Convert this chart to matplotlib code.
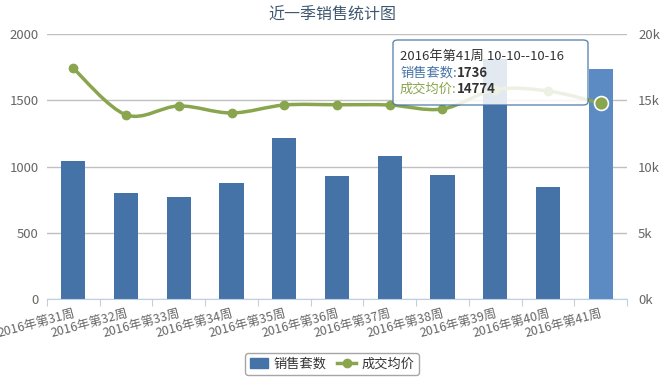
import numpy as np
import matplotlib
matplotlib.use('Agg')
import matplotlib.pyplot as plt
from matplotlib.path import Path
from matplotlib.patches import PathPatch, FancyBboxPatch, Patch
from matplotlib.lines import Line2D

plt.rcParams['font.family'] = ['Noto Sans CJK SC', 'DejaVu Sans']

# data
weeks = ['2016年第31周', '2016年第32周', '2016年第33周', '2016年第34周', '2016年第35周',
         '2016年第36周', '2016年第37周', '2016年第38周', '2016年第39周', '2016年第40周',
         '2016年第41周']
sales = [1045, 800, 770, 875, 1215, 928, 1079, 936, 1815, 845, 1736]
price = [17400, 13900, 14570, 14040, 14640, 14660, 14640, 14340, 15800, 15700, 14774]

blue = '#4572A7'
blue_hover = '#5B8BC2'
green = '#89A54E'
txt = '#666666'

W, H = 665, 384
fig = plt.figure(figsize=(W / 100, H / 100), dpi=100)
ax = fig.add_axes([47 / W, 1 - 299 / H, (627 - 47) / W, (299 - 34) / H])
ax2 = ax.twinx()

x = np.arange(len(weeks))
colors = [blue] * (len(weeks) - 1) + [blue_hover]
ax.bar(x, sales, width=0.46, color=colors, zorder=2)
ax.set_xlim(-0.5, len(weeks) - 0.5)
ax.set_ylim(0, 2000)
ax.set_yticks([0, 500, 1000, 1500, 2000])
ax.yaxis.grid(True, color='#C0C0C0', linewidth=1)
ax.set_axisbelow(True)
ax2.set_ylim(0, 20000)
ax2.set_yticks([0, 5000, 10000, 15000, 20000])
ax2.set_yticklabels(['0k', '5k', '10k', '15k', '20k'])

for a in (ax, ax2):
    for s in a.spines.values():
        s.set_visible(False)
ax.spines['bottom'].set_visible(True)
ax.spines['bottom'].set_color('#C0D0E0')

ax.tick_params(axis='y', length=0, labelsize=9.5, labelcolor=txt, pad=6)
ax2.tick_params(axis='y', length=0, labelsize=9.5, labelcolor=txt, pad=8)

# category ticks at the borders, labels at the centers
ax.set_xticks(np.arange(len(weeks) + 1) - 0.5)
ax.set_xticklabels([])
ax.tick_params(axis='x', which='major', length=5, color='#C0D0E0')
ax.set_xticks(x, minor=True)
ax.set_xticklabels(weeks, minor=True, rotation=15, ha='right', va='top',
                   rotation_mode='anchor', fontsize=9, color=txt)
ax.tick_params(axis='x', which='minor', length=0, pad=6)

# smooth line (catmull-rom to bezier in data coords)
px = np.array(x, dtype=float)
py = np.array(price, dtype=float)
verts = [(px[0], py[0])]
codes = [Path.MOVETO]
for i in range(len(px) - 1):
    p0 = (px[max(i - 1, 0)], py[max(i - 1, 0)])
    p1 = (px[i], py[i])
    p2 = (px[i + 1], py[i + 1])
    p3 = (px[min(i + 2, len(px) - 1)], py[min(i + 2, len(px) - 1)])
    t = 1 / 6
    c1 = (p1[0] + (p2[0] - p0[0]) * t, p1[1] + (p2[1] - p0[1]) * t)
    c2 = (p2[0] - (p3[0] - p1[0]) * t, p2[1] - (p3[1] - p1[1]) * t)
    verts += [c1, c2, p2]
    codes += [Path.CURVE4] * 3
ax2.add_patch(PathPatch(Path(verts, codes), fill=False, edgecolor=green, lw=2.5, zorder=3))
ax2.plot(px[:-1], py[:-1], 'o', color=green, ms=6, zorder=4)
ax2.plot(px[-1], py[-1], 'o', color=green, ms=10, mec='white', mew=1.2, zorder=5)

# title
fig.text(0.5, 1 - 15 / H, '近一季销售统计图', ha='center', va='center', fontsize=11.5, color='#3E576F')

# tooltip
tb = FancyBboxPatch((393 / W, 1 - 105 / H), (588 - 393) / W, (105 - 40) / H,
                    boxstyle='round,pad=0,rounding_size=0.008', transform=fig.transFigure,
                    facecolor='white', alpha=0.85, edgecolor=blue, lw=1, zorder=10)
fig.patches.append(tb)
fig.text(400 / W, 1 - 56 / H, '2016年第41周 10-10--10-16', fontsize=9.5, color='#333333',
         va='center', zorder=11)
t1 = fig.text(400 / W, 1 - 73 / H, '销售套数:', fontsize=9.5, color=blue, va='center', zorder=11)
t2 = fig.text(400 / W, 1 - 89 / H, '成交均价:', fontsize=9.5, color=green, va='center', zorder=11)
fig.canvas.draw()
r = fig.canvas.get_renderer()
for t, val in ((t1, '1736'), (t2, '14774')):
    bb = t.get_window_extent(r)
    fig.text(bb.x1 / W, bb.y0 / H + bb.height / H / 2, val, fontsize=9.5, fontweight='bold',
             color='#333333', va='center', zorder=11)

# legend
handles = [Patch(facecolor=blue, edgecolor=blue),
           Line2D([0], [0], color=green, lw=2.5, marker='o', ms=6)]
leg = fig.legend(handles, ['销售套数', '成交均价'], loc='center', ncol=2,
                 bbox_to_anchor=(332 / W, 1 - 364 / H), fontsize=9.5, frameon=True,
                 fancybox=True, edgecolor='#909090', handlelength=1.4, handletextpad=0.4,
                 columnspacing=0.8, borderpad=0.35)
leg.get_frame().set_linewidth(1)
for t in leg.get_texts():
    t.set_color('#333333')

fig.savefig('out.png', dpi=100)
